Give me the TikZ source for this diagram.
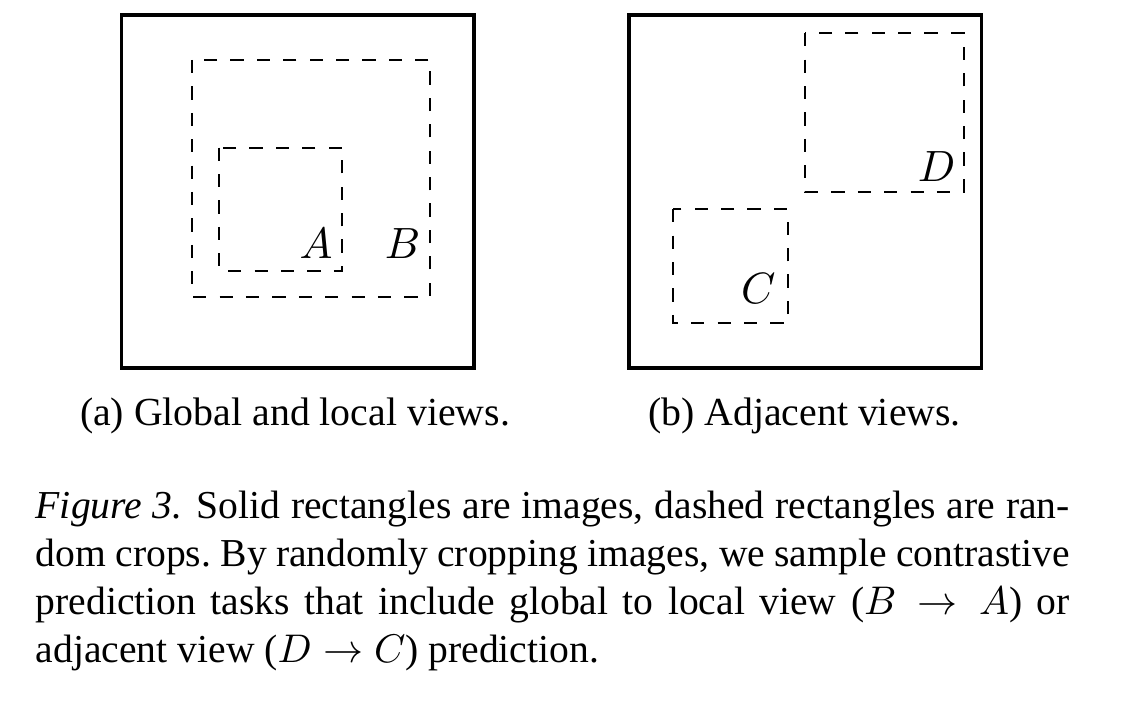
\documentclass[tikz,border=0pt]{standalone}
\usepackage{fontspec}
\setmainfont{Liberation Serif}
\begin{document}
\frenchspacing
\begin{tikzpicture}[x=0.25pt,y=-0.25pt,
  imgbox/.style={line width=0.8pt},
  cropbox/.style={line width=0.45pt, dash pattern=on 3.3pt off 3.3pt},
  lab/.style={inner sep=0pt, anchor=base, font=\fontsize{11.3}{13}\selectfont},
  subcap/.style={inner sep=0pt, anchor=base, font=\fontsize{9.95}{12}\selectfont},
  capt/.style={inner sep=0pt, anchor=north west, text width=258.5pt, align=justify,
    font=\fontsize{9.9}{12}\selectfont}]
\useasboundingbox (0,0) rectangle (1128,712);
% (a)
\draw[imgbox] (121.7,15) rectangle (474,368);
\draw[cropbox] (192.3,60) rectangle (430,296.7);
\draw[cropbox] (219.3,147.7) rectangle (342.3,270.7);
\node[lab] (labA) at (316,259) {$A$};
\node[lab] (labB) at (402.7,259) {$B$};
% (b)
\draw[imgbox] (629,15) rectangle (981.7,368);
\draw[cropbox] (805,33.3) rectangle (963.7,191.7);
\draw[cropbox] (673.3,209.3) rectangle (787.7,323.3);
\node[lab] (labD) at (936.7,181.7) {$D$};
\node[lab] (labC) at (758.3,304) {$C$};
% subcaptions
\node[subcap] (capa) at (295,426) {(a) Global and local views.};
\node[subcap] (capb) at (804.5,426) {(b) Adjacent views.};
% caption
\node[capt] (cap) at (35,490) {\textit{Figure 3.}\hskip0.35em Solid rectangles are images, dashed rectangles are ran-\linebreak dom crops. By randomly cropping images, we sample contrastive\linebreak prediction tasks that include global to local view ($B \to A$) or\linebreak adjacent view ($D \to C$) prediction.};
\end{tikzpicture}
\end{document}
